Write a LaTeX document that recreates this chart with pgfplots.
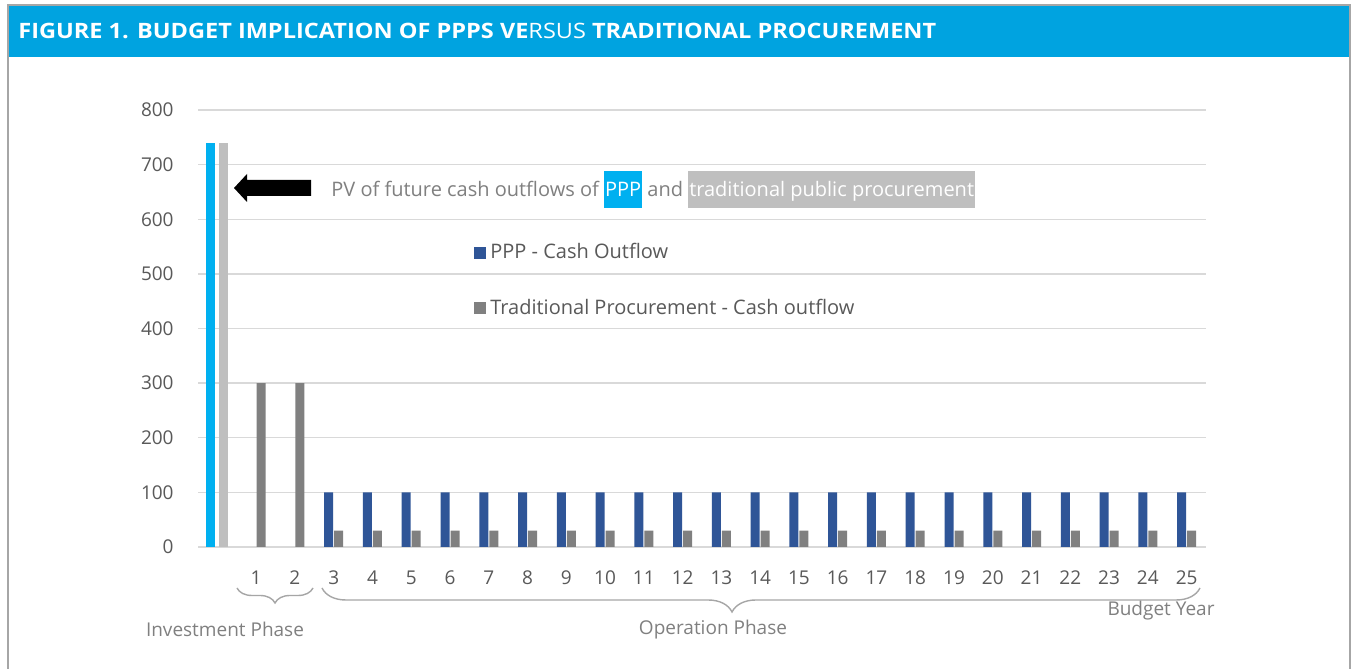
\documentclass[border=0pt]{standalone}
\usepackage{pgfplots}
\pgfplotsset{compat=1.18}
\usepackage{fontspec}
\setmainfont{Open Sans}
\usetikzlibrary{decorations.pathreplacing}

\definecolor{titleblue}{HTML}{00A3E0}
\definecolor{pvblue}{HTML}{00B0F0}
\definecolor{pppblue}{HTML}{2F5597}
\definecolor{tradgray}{HTML}{808080}
\definecolor{pvgray}{HTML}{BFBFBF}
\definecolor{gridgray}{HTML}{D9D9D9}
\definecolor{txtgray}{HTML}{595959}
\definecolor{lblgray}{HTML}{808080}
\definecolor{framegray}{HTML}{A6A6A6}

% highlighted words in the annotation
\newcommand\hl[2]{{\setlength{\fboxsep}{0pt}\colorbox{#1}{\rule[-5.5pt]{0pt}{18.5pt}\hspace{0.5pt}\textcolor{white}{#2}\hspace{0.5pt}}}}

\begin{document}
\begin{tikzpicture}[x=0.5pt,y=0.5pt]
\useasboundingbox (0,0) rectangle (1351,669);
\fill[white] (0,0) rectangle (1351,669);
\fill[titleblue] (8,612) rectangle (1350,663);
\draw[framegray, line width=1pt] (8,0) -- (8,664) -- (1350,664) -- (1350,0);
\node[anchor=west, text=white, inner sep=0pt, font=\bfseries\fontsize{10.6}{12}\selectfont]
  at (18,638) {\scalebox{1.11}[1]{FIGURE 1. BUDGET IMPLICATION OF PPPS VE{\mdseries RSUS} TRADITIONAL PROCUREMENT}};

\begin{axis}[
  at={(99pt,61pt)}, anchor=south west,
  scale only axis, width=504pt, height=218.5pt,
  xmin=-0.5, xmax=25.5, ymin=0, ymax=800,
  ytick={0,100,...,800},
  xtick={1,...,25},
  axis line style={draw=none},
  major tick length=0pt,
  ymajorgrids, grid style={gridgray, line width=0.75pt},
  ybar, bar width=4.5pt,
  /pgf/number format/assume math mode=true,
  ticklabel style={font=\fontsize{9.5}{11}\selectfont, text=txtgray},
  yticklabel style={anchor=east, inner sep=0pt, xshift=-12pt},
  xticklabel style={anchor=center, inner sep=0pt, yshift=-15.5pt},
  legend style={at={(0.2738,0.610)}, anchor=west, draw=none, fill=none,
    font=\fontsize{10}{12}\selectfont, text=txtgray, row sep=14.5pt, inner sep=0pt},
  legend cell align=left,
  legend image code/.code={\fill[#1] (0pt,-3pt) rectangle (6pt,3pt);},
  clip=false,
]
\addplot[fill=pvblue, draw=none, bar shift=-3.25pt, forget plot] coordinates {(0,740)};
\addplot[fill=pvgray, draw=none, bar shift=3.25pt, forget plot] coordinates {(0,740)};
\addplot[fill=pppblue, draw=none, bar shift=-2.5pt] coordinates {
  (3,100) (4,100) (5,100) (6,100) (7,100) (8,100) (9,100) (10,100) (11,100)
  (12,100) (13,100) (14,100) (15,100) (16,100) (17,100) (18,100) (19,100)
  (20,100) (21,100) (22,100) (23,100) (24,100) (25,100)};
\addplot[fill=tradgray, draw=none, bar shift=2.5pt] coordinates {
  (1,300) (2,300)
  (3,30) (4,30) (5,30) (6,30) (7,30) (8,30) (9,30) (10,30) (11,30)
  (12,30) (13,30) (14,30) (15,30) (16,30) (17,30) (18,30) (19,30)
  (20,30) (21,30) (22,30) (23,30) (24,30) (25,30)};
\legend{PPP - Cash Outflow, Traditional Procurement - Cash outflow}
\end{axis}

% annotation arrow and text
\fill[black] (234,481) -- (247,495) -- (247,489) -- (311,489) -- (311,473) -- (247,473) -- (247,467) -- cycle;
\node[anchor=base west, inner sep=0pt, font=\fontsize{10}{12}\selectfont, text=lblgray]
  at (331,472) {PV of future cash outflows of \hl{pvblue}{PPP} and \hl{pvgray}{traditional public procurement}};

% phase braces
\draw[framegray, line width=0.7pt, decorate, decoration={brace, mirror, amplitude=7.5pt}]
  (237,81) -- (313,81);
\draw[framegray, line width=0.7pt, decorate, decoration={brace, mirror, amplitude=12pt, aspect=0.467}]
  (322,81) -- (1200,81);
\begin{scope}[every node/.style={inner sep=0pt, text=lblgray, font=\fontsize{9.5}{11}\selectfont}]
\node at (225,40) {Investment Phase};
\node at (713,39) {Operation Phase};
\node at (1161,58) {Budget Year};
\end{scope}
\end{tikzpicture}
\end{document}
